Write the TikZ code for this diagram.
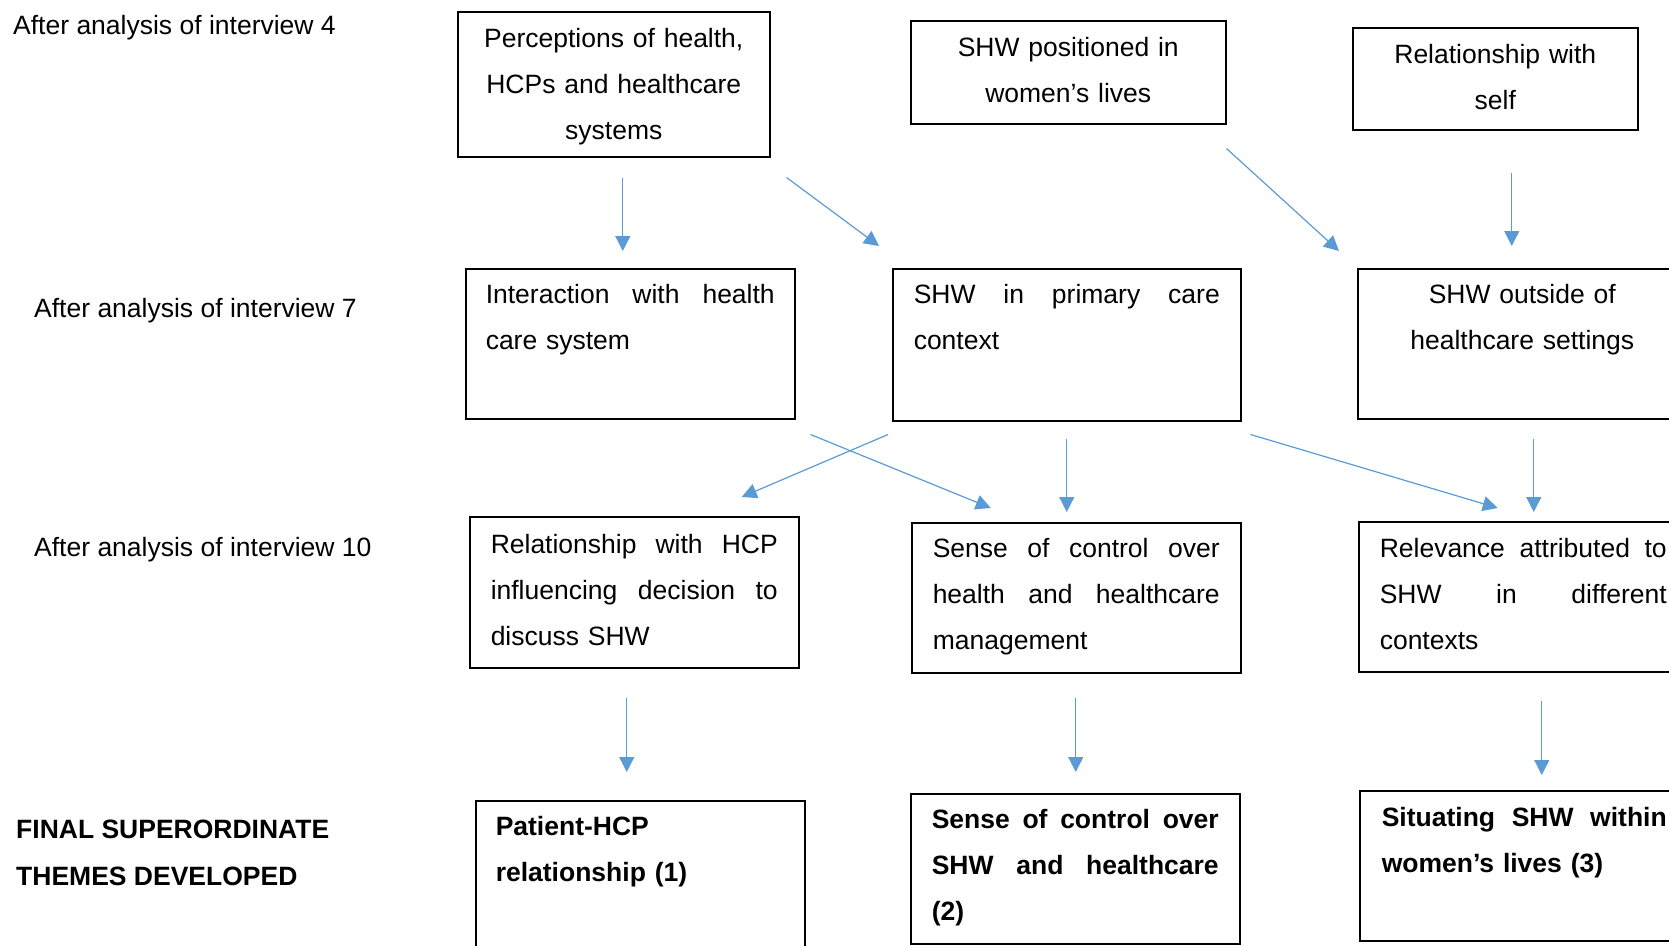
\documentclass[tikz,border=0pt]{standalone}
\usepackage{fontspec}
\setmainfont{Liberation Sans}
\usetikzlibrary{arrows.meta,calc}
\definecolor{flowblue}{RGB}{91,155,213}
\newcommand{\jl}[2][287pt]{\hbox to #1{\spaceskip=0.25em plus 1fill\relax #2}\par}
\tikzset{
  theme/.style={draw, line width=1.5pt, anchor=north west, inner ysep=0pt,
    inner xsep=21pt, text width=287pt, text height=35pt, text depth=115pt},
  flow/.style={draw=flowblue, line width=1.2pt, -{Triangle[width=15pt,length=15pt]}},
  stage/.style={anchor=base west, inner sep=0pt}
}

\begin{document}
\begin{tikzpicture}[x=1pt, y=-1pt, font=\fontsize{26.5}{46}\selectfont]
\useasboundingbox (0,0) rectangle (1669,945);
\clip (0,0) rectangle (1669,945);

\node[stage] (s4) at (13,34.5) {After analysis of interview 4};
\node[stage] (s7) at (34,317) {After analysis of interview 7};
\node[stage] (s10) at (34,556) {After analysis of interview 10};
\node[stage] (fin1) at (16,838) {\bfseries FINAL SUPERORDINATE};
\node[stage] (fin2) at (16,885.5) {\bfseries THEMES DEVELOPED};

\node[theme, align=center, inner xsep=10pt, text width=292pt, text height=36pt, text depth=109pt]
  (perc) at (457,11) {Perceptions of health,\\ HCPs and healthcare\\ systems};
\node[theme, align=center, inner xsep=10pt, text width=295pt, text height=36pt, text depth=67pt]
  (posit) at (910,20) {SHW positioned in\\ women’s lives};
\node[theme, align=center, inner xsep=10pt, text width=265pt, text height=36pt, text depth=66pt]
  (self) at (1352,27) {Relationship with\\ self};

\node[theme, inner xsep=20pt, text width=289pt] (inter) at (465,268)
  {\jl[289pt]{Interaction with health}care system};
\node[theme, text width=306pt, text depth=117pt] (prim) at (892,268)
  {\jl[306pt]{SHW in primary care}context};
\node[theme, align=center, inner xsep=10pt, text width=309pt] (outs) at (1357,268)
  {SHW outside of\\ healthcare settings};

\node[theme, text height=37pt, text depth=114pt] (hcp) at (469,516)
  {\jl{Relationship with HCP}\jl{influencing decision to}discuss SHW};
\node[theme] (sense) at (911,522)
  {\jl{Sense of control over}\jl{health and healthcare}management};
\node[theme, text height=36pt, text depth=114pt] (relev) at (1358,521)
  {\jl{Relevance attributed to}\jl{SHW in different}contexts};

\node[theme, inner xsep=20pt, text width=289pt] (pat) at (475,800)
  {\bfseries Patient-HCP\par relationship (1)};
\node[theme] (thm2) at (910,793)
  {\bfseries\jl{Sense of control over}\jl{SHW and healthcare}(2)};
\node[theme, inner xsep=22pt, text width=285pt, text height=36pt, text depth=114pt] (thm3) at (1359,790)
  {\bfseries\jl[285pt]{Situating SHW within}women’s lives (3)};

\draw[flow] ($(perc.south)+(9,20)$) -- ($(inter.north)+(-7.5,-17)$);
\draw[flow] ($(perc.south east)+(16,20)$) -- ($(prim.north west)+(-13,-22)$);
\draw[flow] ($(posit.south east)+(0,24)$) -- ($(outs.north west)+(-18,-17)$);
\draw[flow] ($(self.south)+(16.5,42)$) -- ($(outs.north)+(-10.5,-22)$);

\draw[flow] ($(prim.south west)+(-4,13)$) -- ($(hcp.north)+(107.5,-19)$);
\draw[flow] ($(inter.south east)+(15,15)$) -- ($(sense.north)+(-85.5,-14)$);
\draw[flow] ($(prim.south)+(0,17)$) -- ($(sense.north)+(-9.5,-10)$);
\draw[flow] ($(prim.south east)+(9,13)$) -- ($(relev.north)+(-25.5,-13)$);
\draw[flow] ($(outs.south)+(11.5,19)$) -- ($(relev.north)+(10.5,-9)$);

\draw[flow] ($(hcp.south)+(-7.5,29)$) -- ($(pat.north)+(-13.5,-28)$);
\draw[flow] ($(sense.south)+(-0.5,24)$) -- ($(thm2.north)+(0.5,-21)$);
\draw[flow] ($(relev.south)+(18.5,28)$) -- ($(thm3.north)+(17.5,-15)$);
\end{tikzpicture}
\end{document}
